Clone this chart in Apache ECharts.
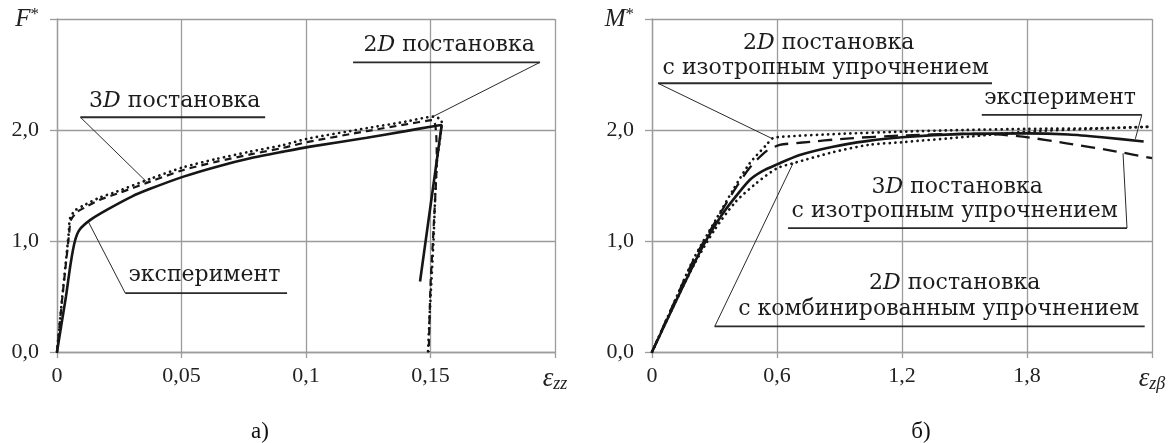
<!DOCTYPE html>
<html>
<head>
<meta charset="utf-8">
<script src="https://cdn.jsdelivr.net/npm/echarts@6/dist/echarts.min.js"></script>
<style>
  html, body { margin: 0; padding: 0; background: #fff; }
  #chart { width: 1169px; height: 443px; }
</style>
</head>
<body>
<div id="chart"></div>
<script>
// ---------- Panel а): F* versus ε_zz ----------
const xTickLabelsA = ['0', '0,05', '0,1', '0,15'];
const yTickLabels = ['0,0', '1,0', '2,0'];

// experiment (loading and unloading)
const expA = [
  [0, 0], [0.002, 0.28], [0.0036, 0.5], [0.0055, 0.8], [0.0072, 1.0], [0.009, 1.1],
  [0.0134, 1.19], [0.02, 1.28], [0.03, 1.40], [0.0374, 1.47], [0.0508, 1.58],
  [0.0642, 1.67], [0.0776, 1.745], [0.091, 1.805], [0.1017, 1.85], [0.1244, 1.93],
  [0.14, 1.99], [0.150, 2.03], [0.1545, 2.045], [0.1458, 0.635]
];
// 3D model
const model3dA = [
  [0, 0], [0.002, 0.46], [0.0036, 0.8], [0.0048, 1.05], [0.0056, 1.19], [0.008, 1.26],
  [0.011, 1.3], [0.017, 1.37], [0.024, 1.425], [0.0374, 1.535], [0.0508, 1.64],
  [0.0642, 1.715], [0.0776, 1.78], [0.091, 1.84], [0.1003, 1.89], [0.1244, 1.99],
  [0.14, 2.05], [0.151, 2.09], [0.1525, 1.75], [0.1512, 1.1], [0.15, 0.6], [0.1493, 0.0]
];
// 2D model
const model2dA = [
  [0, 0], [0.002, 0.47], [0.0035, 0.8], [0.0047, 1.07], [0.0053, 1.21], [0.0075, 1.28],
  [0.0107, 1.32], [0.017, 1.39], [0.024, 1.445], [0.0374, 1.56], [0.0508, 1.665],
  [0.0642, 1.74], [0.0776, 1.805], [0.091, 1.865], [0.1003, 1.92], [0.1244, 2.016],
  [0.14, 2.075], [0.1512, 2.12], [0.1545, 2.08], [0.1525, 1.69], [0.1512, 1.0],
  [0.1497, 0.35], [0.149, 0.0]
];

// ---------- Panel б): M* versus ε_zβ ----------
const xTickLabelsB = ['0', '0,6', '1,2', '1,8'];

const expB = [
  [0, 0], [0.1, 0.4], [0.2, 0.79], [0.261, 1.01], [0.33, 1.22], [0.389, 1.37],
  [0.469, 1.55], [0.53, 1.63], [0.6, 1.69], [0.709, 1.775], [0.869, 1.85],
  [1.03, 1.9], [1.2, 1.935], [1.5, 1.965], [1.8, 1.97], [2.0, 1.96], [2.16, 1.935],
  [2.36, 1.896]
];
const iso2dB = [
  [0, 0], [0.1, 0.42], [0.2, 0.84], [0.309, 1.2], [0.389, 1.46], [0.469, 1.70],
  [0.549, 1.866], [0.58, 1.926], [0.63, 1.94], [0.9, 1.965], [1.2, 1.985],
  [1.5, 2.0], [1.8, 2.01], [2.16, 2.016], [2.4, 2.03]
];
const iso3dB = [
  [0, 0], [0.1, 0.42], [0.2, 0.83], [0.309, 1.19], [0.389, 1.44], [0.469, 1.66],
  [0.549, 1.81], [0.613, 1.865], [0.709, 1.885], [0.949, 1.925], [1.189, 1.95],
  [1.5, 1.965], [1.65, 1.96], [1.78, 1.94], [1.99, 1.88], [2.23, 1.806], [2.4, 1.746]
];
const comb2dB = [
  [0, 0], [0.1, 0.4], [0.2, 0.78], [0.3, 1.1], [0.4, 1.35], [0.5, 1.52], [0.6, 1.655],
  [0.677, 1.70], [0.869, 1.80], [1.04, 1.866], [1.2, 1.89], [1.52, 1.94], [1.8, 1.985],
  [2.1, 2.01], [2.4, 2.03]
];

// ---------- styles ----------
const INK = '#161616';
const GRID_GREY = '#9c9c9c';
const TICK_FONT = 'Liberation Serif';
const NOTE_FONT = 'DejaVu Serif';
const NOTE_SIZE = 22;

const solid = { color: INK, width: 2.6, type: 'solid' };
const dotted = { color: INK, width: 2.7, type: [0.1, 5.5], cap: 'round' };
const dashedShort = { color: INK, width: 2.2, type: [7, 5] };
const dashedLong = { color: INK, width: 2.3, type: [14, 8] };

function line(data, gridIdx, style) {
  return {
    type: 'line', data, xAxisIndex: gridIdx, yAxisIndex: gridIdx,
    showSymbol: false, symbol: 'none', smooth: 0.25, silent: true,
    lineStyle: style, animation: false
  };
}

const axisLineStyle = { color: GRID_GREY, width: 1.3 };

function xAxis(gridIdx, max, interval, labels, sub) {
  return {
    type: 'value', gridIndex: gridIdx, min: 0, max, interval,
    axisLine: { show: true, onZero: false, lineStyle: axisLineStyle },
    axisTick: { show: true, length: 6, lineStyle: axisLineStyle },
    splitLine: { show: true, lineStyle: axisLineStyle },
    axisLabel: {
      margin: 13, color: '#222', fontFamily: TICK_FONT, fontSize: 22,
      showMaxLabel: true, showMinLabel: true,
      formatter: (v, i) => i < labels.length ? labels[i] : '{e|ε}{s|' + sub + '}',
      rich: {
        e: { fontFamily: TICK_FONT, fontStyle: 'italic', fontSize: 27, color: '#222', lineHeight: 28, verticalAlign: 'middle' },
        s: { fontFamily: TICK_FONT, fontStyle: 'italic', fontSize: 18, color: '#222', lineHeight: 28, verticalAlign: 'bottom' }
      }
    }
  };
}

function yAxis(gridIdx, sym) {
  return {
    type: 'value', gridIndex: gridIdx, min: 0, max: 3, interval: 1,
    axisLine: { show: true, onZero: false, lineStyle: axisLineStyle },
    axisTick: { show: true, length: 7, lineStyle: axisLineStyle },
    splitLine: { show: true, lineStyle: axisLineStyle },
    axisLabel: {
      margin: 18, color: '#222', fontFamily: TICK_FONT, fontSize: 22,
      showMaxLabel: true,
      formatter: (v, i) => i < yTickLabels.length ? yTickLabels[i] : '{f|' + sym + '}{a|*}',
      rich: {
        f: { fontFamily: TICK_FONT, fontStyle: 'italic', fontSize: 25, color: '#222', lineHeight: 26, verticalAlign: 'bottom' },
        a: { fontFamily: TICK_FONT, fontSize: 17, color: '#222', lineHeight: 26, verticalAlign: 'top' }
      }
    }
  };
}

const chart = echarts.init(document.getElementById('chart'), null, { renderer: 'canvas' });

chart.setOption({
  backgroundColor: '#fff',
  animation: false,
  grid: [
    { left: 57, top: 19, width: 498, height: 333 },
    { left: 652, top: 19, width: 500, height: 333 }
  ],
  xAxis: [
    xAxis(0, 0.2, 0.05, xTickLabelsA, 'zz'),
    xAxis(1, 2.4, 0.6, xTickLabelsB, 'zβ')
  ],
  yAxis: [yAxis(0, 'F'), yAxis(1, 'M')],
  series: [
    line(expA, 0, solid),
    line(model3dA, 0, dashedShort),
    line(model2dA, 0, dotted),
    line(expB, 1, solid),
    line(iso3dB, 1, dashedLong),
    line(iso2dB, 1, dotted),
    line(comb2dB, 1, dotted)
  ]
});

// ---------- callouts (positions in data units of each panel) ----------
const label2D = '{n|2}{d|D}{n| постановка}';
const label3D = '{n|3}{d|D}{n| постановка}';
const labelExp = 'эксперимент';
const labelIso = 'с изотропным упрочнением';
const labelComb = 'с комбинированным упрочнением';

const callouts = [
  { grid: 0, text: [[label3D, [0.0473, 2.262]]],
    under: [[0.0094, 2.115], [0.0836, 2.115]], leader: [[0.0094, 2.115], [0.0361, 1.53]] },
  { grid: 0, text: [[label2D, [0.1575, 2.766]]],
    under: [[0.1189, 2.61], [0.1940, 2.61]], leader: [[0.1940, 2.61], [0.1505, 2.115]] },
  { grid: 0, text: [[labelExp, [0.0592, 0.687]]],
    under: [[0.0274, 0.531], [0.0924, 0.531]], leader: [[0.0274, 0.531], [0.0126, 1.173]] },
  { grid: 1, text: [[label2D, [0.848, 2.784]], [labelIso, [0.834, 2.559]]],
    under: [[0.0288, 2.421], [1.632, 2.421]], leader: [[0.0288, 2.421], [0.573, 1.926]] },
  { grid: 1, text: [[labelExp, [1.959, 2.289]]],
    under: [[1.583, 2.136], [2.351, 2.136]], leader: [[2.351, 2.136], [2.32, 1.92]] },
  { grid: 1, text: [[label3D, [1.465, 1.488]], [labelIso, [1.453, 1.272]]],
    under: [[0.653, 1.116], [2.28, 1.116]], leader: [[2.28, 1.116], [2.261, 1.79]] },
  { grid: 1, text: [[label2D, [1.453, 0.615]], [labelComb, [1.376, 0.381]]],
    under: [[0.301, 0.230], [2.365, 0.230]], leader: [[0.301, 0.230], [0.677, 1.70]] }
];

const noteRich = {
  n: { fontFamily: NOTE_FONT, fontSize: NOTE_SIZE, fill: '#1c1c1c', color: '#1c1c1c' },
  d: { fontFamily: NOTE_FONT, fontSize: NOTE_SIZE, fontStyle: 'italic', fill: '#1c1c1c', color: '#1c1c1c' }
};

const graphics = [];
const px = (g, p) => chart.convertToPixel({ gridIndex: g }, p);

callouts.forEach(c => {
  c.text.forEach(([t, pos]) => {
    const [x, y] = px(c.grid, pos);
    graphics.push({
      type: 'text', x, y, silent: true,
      style: {
        text: t, rich: noteRich, fontFamily: NOTE_FONT, fontSize: NOTE_SIZE, fill: '#1c1c1c',
        align: 'center', verticalAlign: 'middle', textAlign: 'center', textVerticalAlign: 'middle'
      }
    });
  });
  const u1 = px(c.grid, c.under[0]), u2 = px(c.grid, c.under[1]);
  graphics.push({ type: 'line', silent: true, shape: { x1: u1[0], y1: u1[1], x2: u2[0], y2: u2[1] },
    style: { stroke: '#2a2a2a', lineWidth: 1.8 } });
  const l1 = px(c.grid, c.leader[0]), l2 = px(c.grid, c.leader[1]);
  graphics.push({ type: 'line', silent: true, shape: { x1: l1[0], y1: l1[1], x2: l2[0], y2: l2[1] },
    style: { stroke: '#2a2a2a', lineWidth: 1 } });
});

// panel captions
const captions = [['а)', 260, 432], ['б)', 921, 432]];
captions.forEach(([t, x, y]) => {
  graphics.push({ type: 'text', x, y, silent: true,
    style: { text: t, fontFamily: TICK_FONT, fontSize: 23, fill: '#111',
      align: 'center', verticalAlign: 'middle', textAlign: 'center', textVerticalAlign: 'middle' } });
});

chart.setOption({ graphic: graphics });
</script>
</body>
</html>
